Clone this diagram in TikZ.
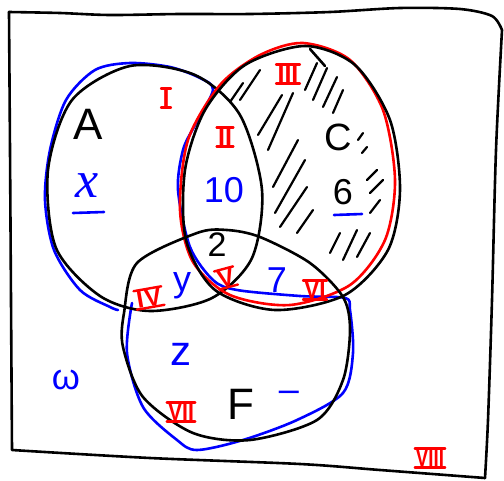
\documentclass[tikz,border=0pt]{standalone}
\usepackage{fontspec}
\setmainfont{Liberation Sans}
\newfontfamily\lserif{Liberation Serif}
\definecolor{pred}{RGB}{255,0,0}
\definecolor{pblue}{RGB}{0,0,255}
\begin{document}
\begin{tikzpicture}[x=1pt,y=-1pt,line cap=round,line join=round,
  outline/.style={line width=2.6pt},
  hatchline/.style={line width=2.2pt,black},
  lbl/.style={inner sep=0pt,outer sep=0pt},
  bigtxt/.style={lbl,font=\fontsize{44}{44}\selectfont},
  midtxt/.style={lbl,font=\fontsize{36}{36}\selectfont},
  roman/.style={inner xsep=1.5pt,inner ysep=0.8pt,outer sep=0pt,text=pred,font=\bfseries\fontsize{25}{25}\selectfont},
  rbar/.style={line width=2.4pt,pred},
  bluetxt/.style={lbl,text=pblue,font=\fontsize{36}{36}\selectfont}]
\useasboundingbox (0,0) rectangle (504,480);
\fill[white] (0,0) rectangle (504,480);

% hatching
\foreach \xa/\ya/\xb/\yb in {230/102/243/83, 240/100/260/70, 258/135/282/95,
  268/150/293/93, 273/187/298/140, 275/213/305/160, 280/227/307/187,
  297/233/313/210, 305/90/317/63, 313/100/327/68, 323/107/337/77,
  333/113/343/90, 358/140/363/133, 362/153/367/147, 367/180/377/170,
  370/193/383/180, 370/213/380/200, 330/253/340/233, 343/260/357/230,
  357/257/370/233}
  \draw[hatchline] (\xa,\ya) -- (\xb,\yb);

% frame
\draw[outline] plot[smooth] coordinates {(9,12) (60,13) (110,15) (180,14) (250,14) (330,12) (400,8) (460,9) (492,16) (502,30)}
  -- plot[smooth] coordinates {(502,30) (496,150) (492,300) (488,420) (485,478)};
\draw[outline] plot[smooth] coordinates {(9,12) (10,150) (11,300) (12,450)}
  -- plot[smooth] coordinates {(12,450) (150,458) (300,464) (380,470) (485,478)};

% blue outline
\draw[outline,pblue] plot[smooth] coordinates {(132,303) (127,353) (143,407) (177,440) (197,450) (243,440) (297,420) (343,393) (353,353) (350,310) (345,298) (300,296) (237,290) (213,280) (190,247) (178,190) (183,150) (195,125) (213,90) (200,78) (170,67) (130,63) (95,70) (66,100) (50,150) (45,200) (54,250) (80,290) (110,307) (118,310)};

% black A
\draw[outline] plot[smooth cycle] coordinates {(48,170) (72,100) (130,66) (195,75) (240,115) (262,190) (252,258) (212,298) (150,311) (100,296) (56,248)};

% red C
\draw[outline,pred] plot[smooth cycle] coordinates {(303,43) (350,60) (383,110) (395,180) (385,240) (350,285) (290,305) (230,295) (193,262) (180,210) (188,140) (220,85) (260,55)};

% black C
\draw[outline] plot[smooth cycle] coordinates {(305,46) (355,65) (390,120) (400,190) (388,250) (345,295) (275,310) (215,290) (186,240) (185,170) (205,110) (245,65)};
\draw[outline] (310,49) -- (325,66);

% black F
\draw[outline] plot[smooth cycle] coordinates {(227,230) (260,237) (310,263) (343,297) (350,330) (343,380) (317,420) (250,440) (193,433) (143,397) (123,347) (124,313) (137,263) (197,233)};

% labels
\node[bigtxt] (labA) at (88,124) {A};
\node[midtxt,font=\fontsize{38}{38}\selectfont] (labC) at (338,137) {C};
\node[bigtxt] (labF) at (241,404) {F};
\node[midtxt,font=\fontsize{34}{34}\selectfont] (lab2) at (217,245) {2};
\node[midtxt] (lab6) at (343,192) {6};
\draw[outline,pblue] (334,215) -- (362,214);

\node[bluetxt,font=\lserif\fontsize{52}{52}\selectfont\itshape] (labx) at (87,186) {x};
\draw[outline,pblue] (73,213) -- (104,212);
\node[bluetxt] (lab10) at (224,190) {10};
\node[bluetxt] (laby) at (182,286) {y};
\node[bluetxt] (lab7) at (277,280) {7};
\node[bluetxt,font=\fontsize{42}{42}\selectfont] (labz) at (181,354) {z};
\node[bluetxt] (labw) at (66,380) {ω};
\node[bluetxt] (labdash) at (289,396) {–};

\node[roman] (r1) at (166,98) {I};
\node[roman] (r2) at (225,137) {II};
\node[roman] (r3) at (288,74) {III};
\node[roman,rotate=10] (r4) at (149,298) {I\kern1.5pt V};
\node[roman,rotate=15] (r5) at (226,278) {V};
\node[roman,xscale=0.9] (r6) at (315,290) {VI};
\node[roman,xscale=0.85] (r7) at (181,412) {VII};
\node[roman,xscale=0.75] (r8) at (430,458) {VIII};
\foreach \r in {r1,r2,r3,r4,r5,r6,r7,r8} {
  \draw[rbar] (\r.north west) -- (\r.north east);
  \draw[rbar] (\r.south west) -- (\r.south east);
}
\end{tikzpicture}
\end{document}
